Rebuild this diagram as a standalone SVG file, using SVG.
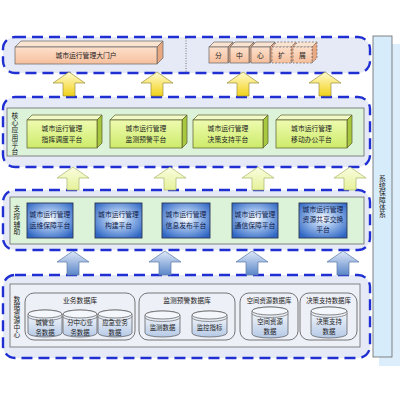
<svg xmlns="http://www.w3.org/2000/svg" width="400" height="400" viewBox="0 0 400 400">
<defs>
<linearGradient id="gPeach" x1="0" y1="0" x2="0" y2="1"><stop offset="0" stop-color="#fde0cc"/><stop offset="1" stop-color="#f6bf9c"/></linearGradient>
<linearGradient id="gGreen" x1="0" y1="0" x2="0" y2="1"><stop offset="0" stop-color="#eefbb0"/><stop offset="1" stop-color="#cdeb6a"/></linearGradient>
<radialGradient id="gBlue" cx="0.5" cy="0.45" r="0.65"><stop offset="0" stop-color="#ffffff"/><stop offset="0.35" stop-color="#a9c6ee"/><stop offset="1" stop-color="#2f66c4"/></radialGradient>
<linearGradient id="gYellow" x1="0" y1="0" x2="0" y2="1"><stop offset="0" stop-color="#fffbd0"/><stop offset="1" stop-color="#f2d21a"/></linearGradient>
<linearGradient id="gPale" x1="0" y1="0" x2="0" y2="1"><stop offset="0" stop-color="#fbfde0"/><stop offset="1" stop-color="#e6f29a"/></linearGradient>
<linearGradient id="gBArrow" x1="0" y1="0" x2="0" y2="1"><stop offset="0" stop-color="#dfe9f8"/><stop offset="1" stop-color="#5b86c8"/></linearGradient>
<linearGradient id="gCyl" x1="0" y1="0" x2="0" y2="1"><stop offset="0" stop-color="#ffffff"/><stop offset="1" stop-color="#b5c9e6"/></linearGradient>
<style>
.layer{fill:#e6eaf6;stroke:#1f2fd2;stroke-width:2.4;stroke-dasharray:11 6}
.inner{fill:#dcf3da;stroke:#6a6a6a;stroke-width:0.8}
.innerd{fill:#eef0f7;stroke:#6a6a6a;stroke-width:0.8}
.t{font-family:"Noto Sans CJK SC",sans-serif;font-size:6.8px;fill:#222;text-anchor:middle}
.tc{font-family:"Noto Sans CJK SC",sans-serif;font-size:6.4px;fill:#222;text-anchor:middle}
.tb{font-family:"Noto Sans CJK SC",sans-serif;font-size:6.8px;fill:#10204a;text-anchor:middle}
.v{font-family:"Noto Sans CJK SC",sans-serif;font-size:6.8px;fill:#222;writing-mode:vertical-rl;text-anchor:start}
.pf{fill:url(#gPeach);stroke:#666;stroke-width:0.7}
.pt{fill:#fbe3d2;stroke:#666;stroke-width:0.7}
.ps{fill:#e8a882;stroke:#666;stroke-width:0.7}
.dash{stroke-dasharray:2 1.5}
.gf{fill:url(#gGreen);stroke:#5a5a2a;stroke-width:0.7}
.gt{fill:#f2fbc8;stroke:#5a5a2a;stroke-width:0.7}
.gs{fill:#a8c840;stroke:#5a5a2a;stroke-width:0.7}
.bb{fill:url(#gBlue);stroke:#2a3550;stroke-width:0.9}
.ay{fill:url(#gYellow);stroke:#9a9040;stroke-width:0.7}
.ap{fill:url(#gPale);stroke:#a8b468;stroke-width:0.7}
.ab{fill:url(#gBArrow);stroke:#5a78a8;stroke-width:0.7}
.grp{fill:none;stroke:#555;stroke-width:0.8}
.cyl{fill:url(#gCyl);stroke:#555;stroke-width:0.7}
.rim{fill:#f4f7fc;stroke:#555;stroke-width:0.7}
</style>
</defs>
<rect width="400" height="400" fill="#ffffff"/>

<!-- right column -->
<g id="sys">
<rect x="379" y="44" width="21" height="322" fill="#dceefb"/>
<rect x="373" y="36" width="19" height="321" fill="#d6ecfb" stroke="#666" stroke-width="0.8"/>
<text class="v" x="382.5" y="175" letter-spacing="0.4">系统保障体系</text>
</g>

<!-- layers -->
<g id="layer-portal">
<rect class="layer" x="3" y="37" width="367" height="36" rx="12"/>
<line x1="186" y1="38" x2="186" y2="72" stroke="#555" stroke-width="0.8" stroke-dasharray="1 1.5"/>
</g>
<g id="layer-core">
<rect class="layer" x="3" y="97" width="367" height="70" rx="12"/>
<rect class="inner" x="7" y="108" width="357" height="48"/>
<text class="v" x="15" y="112" letter-spacing="0.4">核心应用平台</text>
</g>
<g id="layer-support">
<rect class="layer" x="3" y="190" width="367" height="60" rx="12"/>
<rect class="inner" x="10" y="197" width="354" height="47"/>
<text class="v" x="17" y="205" letter-spacing="1">支撑辅助</text>
</g>
<g id="layer-data">
<rect class="layer" x="3" y="275" width="367" height="83" rx="12"/>
<rect class="innerd" x="10" y="284" width="350" height="63"/>
<text class="v" x="17" y="296" letter-spacing="0.2">数据资源中心</text>
</g>

<!-- portal -->
<g id="portal">
<path class="pt" d="M15,47 L21,41 L163,41 L157,47 Z"/>
<path class="ps" d="M157,47 L163,41 L163,58 L157,64 Z"/>
<rect class="pf" x="15" y="47" width="142" height="17"/>
<text class="t" x="86" y="58.3">城市运行管理大门户</text>
</g>
<g id="cube-fen">
<path class="pt" d="M209,47 L214,42 L233,42 L228,47 Z"/><path class="ps" d="M228,47 L233,42 L233,58 L228,63 Z"/><rect class="pf" x="209" y="47" width="19" height="16"/>
<text class="t" x="218.5" y="57.5">分</text></g>
<g id="cube-zhong">
<path class="pt" d="M230,47 L235,42 L254,42 L249,47 Z"/><path class="ps" d="M249,47 L254,42 L254,58 L249,63 Z"/><rect class="pf" x="230" y="47" width="19" height="16"/>
<text class="t" x="239.5" y="57.5">中</text></g>
<g id="cube-xin">
<path class="pt" d="M251,47 L256,42 L275,42 L270,47 Z"/><path class="ps" d="M270,47 L275,42 L275,58 L270,63 Z"/><rect class="pf" x="251" y="47" width="19" height="16"/>
<text class="t" x="260.5" y="57.5">心</text></g>
<g id="cube-kuo">
<path class="pt dash" d="M272,47 L277,42 L296,42 L291,47 Z"/><path class="ps dash" d="M291,47 L296,42 L296,58 L291,63 Z"/><rect class="pf dash" x="272" y="47" width="19" height="16"/>
<text class="t" x="281.5" y="57.5">扩</text></g>
<g id="cube-zhan">
<path class="pt dash" d="M293,47 L298,42 L317,42 L312,47 Z"/><path class="ps dash" d="M312,47 L317,42 L317,58 L312,63 Z"/><rect class="pf dash" x="293" y="47" width="19" height="16"/>
<text class="t" x="302.5" y="57.5">展</text></g>

<!-- core platforms -->
<g id="core1">
<path class="gt" d="M27,120 L32,115 L102,115 L97,120 Z"/><path class="gs" d="M97,120 L102,115 L102,143 L97,148 Z"/><rect class="gf" x="27" y="120" width="70" height="28"/>
<text class="t" x="62" y="131">城市运行管理</text><text class="t" x="62" y="142">指挥调度平台</text></g>
<g id="core2">
<path class="gt" d="M110,120 L115,115 L187,115 L182,120 Z"/><path class="gs" d="M182,120 L187,115 L187,143 L182,148 Z"/><rect class="gf" x="110" y="120" width="72" height="28"/>
<text class="t" x="146" y="131">城市运行管理</text><text class="t" x="146" y="142">监测预警平台</text></g>
<g id="core3">
<path class="gt" d="M193,120 L198,115 L268,115 L263,120 Z"/><path class="gs" d="M263,120 L268,115 L268,143 L263,148 Z"/><rect class="gf" x="193" y="120" width="70" height="28"/>
<text class="t" x="228" y="131">城市运行管理</text><text class="t" x="228" y="142">决策支持平台</text></g>
<g id="core4">
<path class="gt" d="M276,120 L281,115 L352,115 L347,120 Z"/><path class="gs" d="M347,120 L352,115 L352,143 L347,148 Z"/><rect class="gf" x="276" y="120" width="71" height="28"/>
<text class="t" x="311.5" y="131">城市运行管理</text><text class="t" x="311.5" y="142">移动办公平台</text></g>

<!-- support platforms -->
<g id="sup1"><rect class="bb" x="27" y="203" width="46" height="35"/>
<text class="tb" x="50" y="217">城市运行管理</text><text class="tb" x="50" y="227.5">运维保障平台</text></g>
<g id="sup2"><rect class="bb" x="95" y="203" width="47" height="35"/>
<text class="tb" x="118.5" y="217">城市运行管理</text><text class="tb" x="118.5" y="227.5">构建平台</text></g>
<g id="sup3"><rect class="bb" x="162" y="203" width="48" height="35"/>
<text class="tb" x="186" y="217">城市运行管理</text><text class="tb" x="186" y="227.5">信息发布平台</text></g>
<g id="sup4"><rect class="bb" x="232" y="203" width="46" height="35"/>
<text class="tb" x="255" y="217">城市运行管理</text><text class="tb" x="255" y="227.5">通信保障平台</text></g>
<g id="sup5"><rect class="bb" x="299" y="203" width="48" height="35"/>
<text class="tb" x="323" y="212">城市运行管理</text><text class="tb" x="323" y="222">资源共享交换</text><text class="tb" x="323" y="232">平台</text></g>

<!-- databases -->
<g id="db-biz">
<rect class="grp" x="25" y="293" width="110" height="47" rx="9"/>
<text class="t" x="80" y="303">业务数据库</text>
<path class="cyl" d="M28,314 A17,4 0 0 1 62,314 V333 A17,4 0 0 1 28,333 Z"/><ellipse class="rim" cx="45" cy="314" rx="17" ry="4"/><path d="M28,316.5 A17,4 0 0 0 62,316.5" fill="none" stroke="#555" stroke-width="0.6"/>
<text class="tc" x="45" y="325">城管业</text><text class="tc" x="45" y="334.5">务数据</text>
<path class="cyl" d="M63,314 A17,4 0 0 1 97,314 V333 A17,4 0 0 1 63,333 Z"/><ellipse class="rim" cx="80" cy="314" rx="17" ry="4"/><path d="M63,316.5 A17,4 0 0 0 97,316.5" fill="none" stroke="#555" stroke-width="0.6"/>
<text class="tc" x="80" y="325">分中心业</text><text class="tc" x="80" y="334.5">务数据</text>
<path class="cyl" d="M98,314 A17,4 0 0 1 132,314 V333 A17,4 0 0 1 98,333 Z"/><ellipse class="rim" cx="115" cy="314" rx="17" ry="4"/><path d="M98,316.5 A17,4 0 0 0 132,316.5" fill="none" stroke="#555" stroke-width="0.6"/>
<text class="tc" x="115" y="325">应急业务</text><text class="tc" x="115" y="334.5">数据</text>
</g>
<g id="db-monitor">
<rect class="grp" x="139" y="293" width="96" height="47" rx="9"/>
<text class="t" x="187" y="303">监测预警数据库</text>
<path class="cyl" d="M145,315 A17.5,4 0 0 1 180,315 V333 A17.5,4 0 0 1 145,333 Z"/><ellipse class="rim" cx="162.5" cy="315" rx="17.5" ry="4"/><path d="M145,317.5 A17.5,4 0 0 0 180,317.5" fill="none" stroke="#555" stroke-width="0.6"/>
<text class="tc" x="162.5" y="330">监测数据</text>
<path class="cyl" d="M192,315 A17.5,4 0 0 1 227,315 V333 A17.5,4 0 0 1 192,333 Z"/><ellipse class="rim" cx="209.5" cy="315" rx="17.5" ry="4"/><path d="M192,317.5 A17.5,4 0 0 0 227,317.5" fill="none" stroke="#555" stroke-width="0.6"/>
<text class="tc" x="209.5" y="330">监控指标</text>
</g>
<g id="db-space">
<rect class="grp" x="240" y="293" width="58" height="47" rx="9"/>
<text class="tc" x="269" y="303">空间资源数据库</text>
<path class="cyl" d="M252,311 A18,4 0 0 1 288,311 V334 A18,4 0 0 1 252,334 Z"/><ellipse class="rim" cx="270" cy="311" rx="18" ry="4"/><path d="M252,313.5 A18,4 0 0 0 288,313.5" fill="none" stroke="#555" stroke-width="0.6"/>
<text class="tc" x="270" y="324">空间资源</text><text class="tc" x="270" y="333.5">数据</text>
</g>
<g id="db-decision">
<rect class="grp" x="300" y="293" width="57" height="47" rx="9"/>
<text class="tc" x="328.5" y="303">决策支持数据库</text>
<path class="cyl" d="M311,311 A18,4 0 0 1 347,311 V334 A18,4 0 0 1 311,334 Z"/><ellipse class="rim" cx="329" cy="311" rx="18" ry="4"/><path d="M311,313.5 A18,4 0 0 0 347,313.5" fill="none" stroke="#555" stroke-width="0.6"/>
<text class="tc" x="329" y="324">决策支持</text><text class="tc" x="329" y="333.5">数据</text>
</g>

<!-- connectors (block arrows) -->
<g id="connectors">
<path class="ay" d="M69,72 L85,83 L75,83 L75,96 L63,96 L63,83 L53,83 Z"/>
<path class="ay" d="M157,72 L173,83 L163,83 L163,96 L151,96 L151,83 L141,83 Z"/>
<path class="ay" d="M243,72 L259,83 L249,83 L249,96 L237,96 L237,83 L227,83 Z"/>
<path class="ay" d="M325,72 L341,83 L331,83 L331,96 L319,96 L319,83 L309,83 Z"/>
<path class="ap" d="M73,167 L89,178 L79,178 L79,190 L67,190 L67,178 L57,178 Z"/>
<path class="ap" d="M170,167 L186,178 L176,178 L176,190 L164,190 L164,178 L154,178 Z"/>
<path class="ap" d="M258,167 L274,178 L264,178 L264,190 L252,190 L252,178 L242,178 Z"/>
<path class="ap" d="M350,167 L366,178 L356,178 L356,190 L344,190 L344,178 L334,178 Z"/>
<path class="ab" d="M73,251 L89,262 L79,262 L79,275 L67,275 L67,262 L57,262 Z"/>
<path class="ab" d="M165,251 L181,262 L171,262 L171,275 L159,275 L159,262 L149,262 Z"/>
<path class="ab" d="M252,251 L268,262 L258,262 L258,275 L246,275 L246,262 L236,262 Z"/>
<path class="ab" d="M343,251 L359,262 L349,262 L349,275 L337,275 L337,262 L327,262 Z"/>
</g>
</svg>
